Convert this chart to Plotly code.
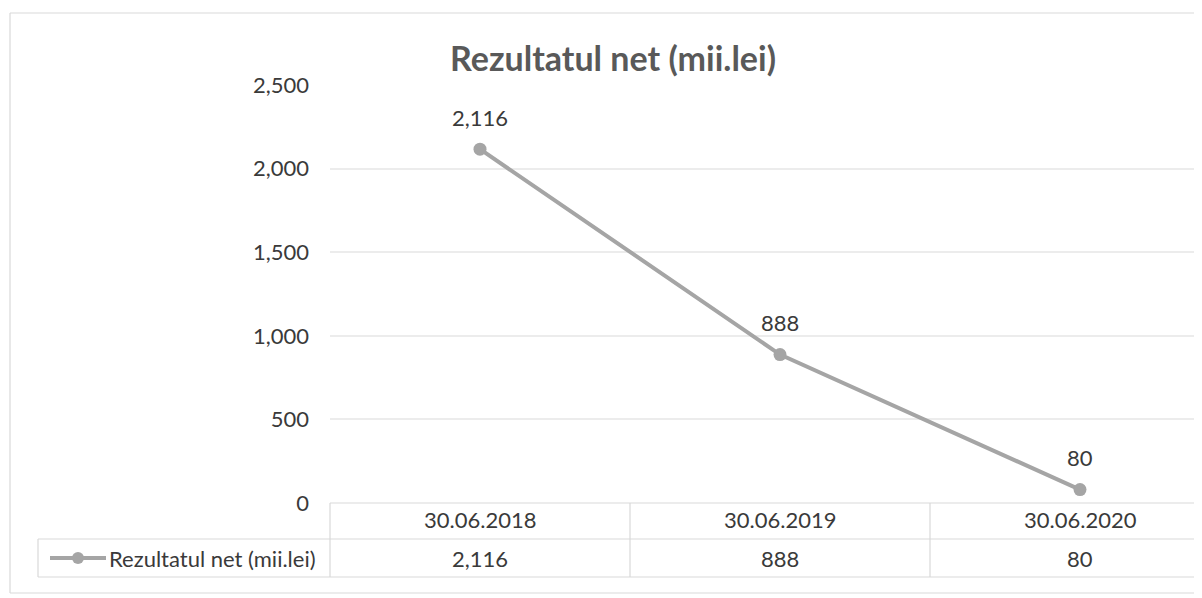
import plotly.graph_objects as go

# ---- data ----
categories = ["30.06.2018", "30.06.2019", "30.06.2020"]
values = [2116, 888, 80]
series_name = "Rezultatul net (mii.lei)"
title_text = "Rezultatul net (mii.lei)"
y_ticks = [0, 500, 1000, 1500, 2000, 2500]

# ---- layout geometry (reference-image pixels; page body adds an 8px offset) ----
OFF = 8
W, H = 1202 - OFF, 598 - OFF
PL, PR, PT, PB = 330, 1202, 85, 503  # plot area edges (reference coords)
COLW = 300
FONT = "Lato"
TXT = "#3a3a3a"
LINE = "#a5a5a5"
GRID = "#ececec"
BORDER = "#d9d9d9"


def xp(px):
    return (px - PL) / (PR - PL)


def yp(py):
    return (PB - py) / (PB - PT)


fig = go.Figure()
fig.add_trace(go.Scatter(
    x=list(range(len(categories))), y=values, mode="lines+markers",
    name=series_name,
    line=dict(color=LINE, width=4),
    marker=dict(color=LINE, size=13),
    showlegend=False, hoverinfo="skip",
))

ann = []
# data labels
for i, v in enumerate(values):
    ann.append(dict(x=i, y=v, xref="x", yref="y", text=f"{v:,}", showarrow=False,
                    xanchor="center", yanchor="middle",
                    yshift=32, font=dict(family=FONT, size=22, color=TXT)))
# table header & values
row1_y, row2_y = 519, 558
for i, (c, v) in enumerate(zip(categories, values)):
    ann.append(dict(x=i, y=yp(row1_y), xref="x", yref="paper", text=c, showarrow=False,
                    xanchor="center", yanchor="middle",
                    font=dict(family=FONT, size=22, color=TXT)))
    ann.append(dict(x=i, y=yp(row2_y), xref="x", yref="paper", text=f"{v:,}", showarrow=False,
                    xanchor="center", yanchor="middle",
                    font=dict(family=FONT, size=22, color=TXT)))
# legend label in table
ann.append(dict(x=xp(107), y=yp(row2_y), xref="paper", yref="paper", text=series_name,
                showarrow=False, xanchor="left", yanchor="middle",
                font=dict(family=FONT, size=22, color=TXT)))
# title
ann.append(dict(x=xp(613), y=yp(57), xref="paper", yref="paper", text="<b>" + title_text + "</b>",
                showarrow=False, xanchor="center", yanchor="middle",
                font=dict(family=FONT, size=34, color="#595959")))

shapes = []
def hline(py, x0, x1, color=BORDER):
    shapes.append(dict(type="line", xref="paper", yref="paper", x0=xp(x0), x1=xp(x1),
                       y0=yp(py), y1=yp(py), line=dict(color=color, width=1.2)))
def vline(px, y0, y1, color=BORDER):
    shapes.append(dict(type="line", xref="paper", yref="paper", x0=xp(px), x1=xp(px),
                       y0=yp(y0), y1=yp(y1), line=dict(color=color, width=1.2)))

# table grid
hline(503, PL, 1202)
hline(539, 38, 1202)
hline(577, 38, 1202)
vline(38, 539, 577)
for k in range(len(categories)):
    vline(PL + k * COLW, 503, 577)
# outer chart border
hline(13, 10, 1202)
vline(10, 13, 593)
hline(593, 10, 1202)
# legend key
shapes.append(dict(type="line", xref="paper", yref="paper", x0=xp(50), x1=xp(106),
                   y0=yp(558), y1=yp(558), line=dict(color=LINE, width=4)))
shapes.append(dict(type="circle", xref="paper", yref="paper", x0=xp(72), x1=xp(84),
                   y0=yp(564), y1=yp(552), fillcolor=LINE, line=dict(color=LINE, width=0)))

fig.update_layout(
    width=W, height=H,
    margin=dict(l=PL - OFF, r=1202 - PR, t=PT - OFF, b=598 - PB),
    paper_bgcolor="white", plot_bgcolor="white",
    xaxis=dict(range=[-0.5, -0.5 + (PR - PL) / COLW], showticklabels=False, showgrid=False,
               zeroline=False, showline=False, ticks=""),
    yaxis=dict(range=[0, 2500], tickvals=y_ticks, tickformat=",", showgrid=True,
               gridcolor=GRID, gridwidth=1.5, zeroline=False, showline=False, ticks="",
               ticklabelstandoff=20,
               tickfont=dict(family=FONT, size=22, color=TXT)),
    annotations=ann, shapes=shapes,
)

fig.write_html("out.html")
